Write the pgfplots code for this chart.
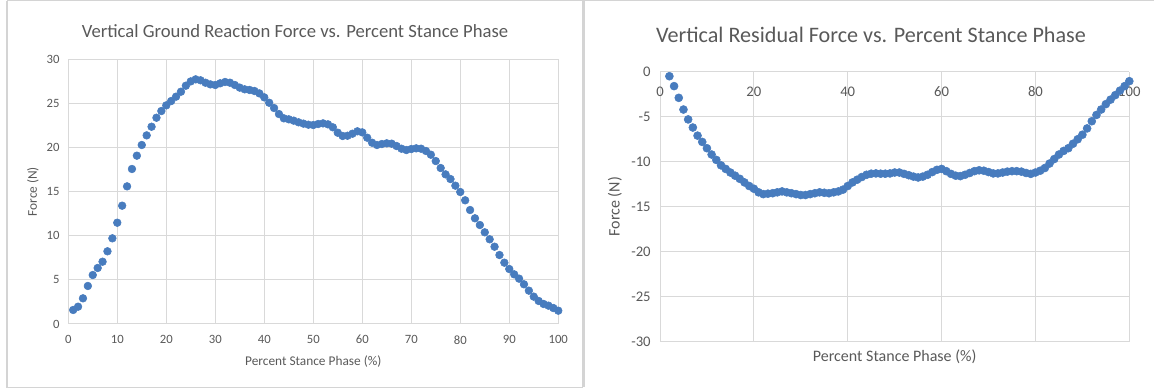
\documentclass[border=0pt]{standalone}
\usepackage{pgfplots}
\pgfplotsset{compat=1.18}
\usepackage{fontspec}
\setmainfont{Carlito}
\definecolor{txt}{HTML}{595959}
\definecolor{grd}{HTML}{D9D9D9}
\definecolor{brd}{HTML}{D4D4D4}
\definecolor{dot}{RGB}{72,124,190}
\begin{document}
\begin{tikzpicture}
\useasboundingbox (0pt,0pt) rectangle (865.5pt,291pt);
% panel borders
\draw[brd, line width=0.9pt] (5.25pt,290.5pt) -- (865.5pt,290.5pt);
\draw[brd, line width=0.9pt] (5.25pt,290.5pt) -- (5.25pt,0.5pt) -- (437.6pt,0.5pt);
\draw[brd, line width=1.6pt] (437.6pt,0.5pt) -- (437.6pt,290.5pt);
\pgfplotsset{
  every axis/.append style={
    scale only axis,
    axis line style={draw=none},
    grid=major,
    major grid style={grd, line width=0.75pt},
    major tick length=0pt,
    tick style={draw=none},
    /pgf/number format/assume math mode=true,
    ticklabel style={text=txt},
    label style={text=txt},
    title style={text=txt},
  }
}
% Left chart
\begin{axis}[
  at={(51.2pt,48pt)}, anchor=south west,
  width=367.5pt, height=198.5pt,
  xmin=0, xmax=100, ymin=0, ymax=30,
  xtick={0,10,...,100}, ytick={0,5,...,30},
  ticklabel style={font=\fontsize{9.5}{11}\selectfont},
  xticklabel style={yshift=-5pt},
  yticklabel style={xshift=-3pt},
  xlabel={Percent Stance Phase (\%)},
  ylabel={Force (N)},
  xlabel style={font=\fontsize{10}{12}\selectfont, at={(axis description cs:0.5,-0.1436)}, anchor=center},
  ylabel style={font=\fontsize{10}{12}\selectfont, at={(axis description cs:-0.072,0.5)}, anchor=center, rotate=0},
  title={Vertical Ground Reaction Force vs. Percent Stance Phase},
  title style={font=\fontsize{14}{16}\selectfont, at={(axis description cs:0.4627,1.078)}, anchor=center},
  clip=false,
]
\addplot[only marks, mark=*, mark size=2.9pt, mark options={fill=dot, draw=dot}] coordinates {
(1,1.59)(2,1.96)(3,2.91)(4,4.31)(5,5.55)(6,6.35)(7,7.06)(8,8.24)(9,9.71)(10,11.48)
(11,13.41)(12,15.60)(13,17.57)(14,19.08)(15,20.29)(16,21.38)(17,22.36)(18,23.38)(19,24.14)(20,24.78)
(21,25.27)(22,25.77)(23,26.33)(24,27.01)(25,27.50)(26,27.73)(27,27.62)(28,27.35)(29,27.16)(30,27.09)
(31,27.28)(32,27.43)(33,27.35)(34,27.09)(35,26.79)(36,26.60)(37,26.53)(38,26.41)(39,26.14)(40,25.69)
(41,25.08)(42,24.48)(43,23.80)(44,23.31)(45,23.20)(46,23.05)(47,22.86)(48,22.71)(49,22.59)(50,22.55)
(51,22.67)(52,22.74)(53,22.63)(54,22.29)(55,21.68)(56,21.31)(57,21.34)(58,21.57)(59,21.84)(60,21.72)
(61,21.12)(62,20.55)(63,20.29)(64,20.40)(65,20.48)(66,20.44)(67,20.17)(68,19.87)(69,19.72)(70,19.83)
(71,19.91)(72,19.87)(73,19.61)(74,19.19)(75,18.47)(76,17.68)(77,16.96)(78,16.43)(79,15.68)(80,14.96)
(81,14.02)(82,12.92)(83,11.98)(84,11.22)(85,10.39)(86,9.60)(87,8.76)(88,7.82)(89,6.95)(90,6.23)
(91,5.63)(92,5.14)(93,4.50)(94,3.78)(95,3.10)(96,2.61)(97,2.27)(98,2.08)(99,1.81)(100,1.51)
};
\end{axis}
% Right chart
\begin{axis}[
  at={(495pt,34.7pt)}, anchor=south west,
  width=352pt, height=202.5pt,
  xmin=0, xmax=100, ymin=-30, ymax=0,
  xtick={0,20,...,100}, ytick={-30,-25,...,0},
  ticklabel style={font=\fontsize{11}{13}\selectfont},
  xticklabel pos=upper,
  xticklabel style={anchor=center, yshift=-15.2pt},
  yticklabel style={xshift=-3.5pt},
  xlabel={Percent Stance Phase (\%)},
  ylabel={Force (N)},
  xlabel style={font=\fontsize{12}{14}\selectfont, at={(axis description cs:0.5,-0.0567)}, anchor=center},
  ylabel style={font=\fontsize{12}{14}\selectfont, at={(axis description cs:-0.0959,0.5)}, anchor=center, rotate=0},
  title={Vertical Residual Force vs. Percent Stance Phase},
  title style={font=\fontsize{16.6}{19}\selectfont, at={(axis description cs:0.4496,1.105)}, anchor=center},
  clip=false,
]
\addplot[only marks, mark=*, mark size=3pt, mark options={fill=dot, draw=dot}] coordinates {
(2,-0.5)(3,-1.6)(4,-2.9)(5,-4.2)(6,-5.3)(7,-6.2)(8,-7.1)(9,-7.8)(10,-8.5)
(11,-9.2)(12,-9.8)(13,-10.4)(14,-10.8)(15,-11.2)(16,-11.55)(17,-11.9)(18,-12.3)(19,-12.7)(20,-13.0)
(21,-13.4)(22,-13.6)(23,-13.55)(24,-13.5)(25,-13.4)(26,-13.3)(27,-13.4)(28,-13.5)(29,-13.6)(30,-13.7)
(31,-13.7)(32,-13.6)(33,-13.5)(34,-13.4)(35,-13.45)(36,-13.5)(37,-13.4)(38,-13.3)(39,-13.1)(40,-12.7)
(41,-12.3)(42,-12.0)(43,-11.7)(44,-11.45)(45,-11.33)(46,-11.3)(47,-11.33)(48,-11.33)(49,-11.3)(50,-11.2)
(51,-11.2)(52,-11.35)(53,-11.5)(54,-11.65)(55,-11.75)(56,-11.65)(57,-11.45)(58,-11.15)(59,-10.9)(60,-10.8)
(61,-11.05)(62,-11.35)(63,-11.55)(64,-11.6)(65,-11.45)(66,-11.25)(67,-11.05)(68,-10.95)(69,-11.0)(70,-11.15)
(71,-11.3)(72,-11.3)(73,-11.2)(74,-11.1)(75,-11.05)(76,-11.05)(77,-11.1)(78,-11.25)(79,-11.35)(80,-11.2)
(81,-11.0)(82,-10.7)(83,-10.2)(84,-9.7)(85,-9.2)(86,-8.8)(87,-8.5)(88,-8.0)(89,-7.5)(90,-7.0)
(91,-6.3)(92,-5.5)(93,-4.8)(94,-4.2)(95,-3.6)(96,-3.1)(97,-2.6)(98,-2.1)(99,-1.6)(100,-1.05)
};
\end{axis}
\end{tikzpicture}
\end{document}
